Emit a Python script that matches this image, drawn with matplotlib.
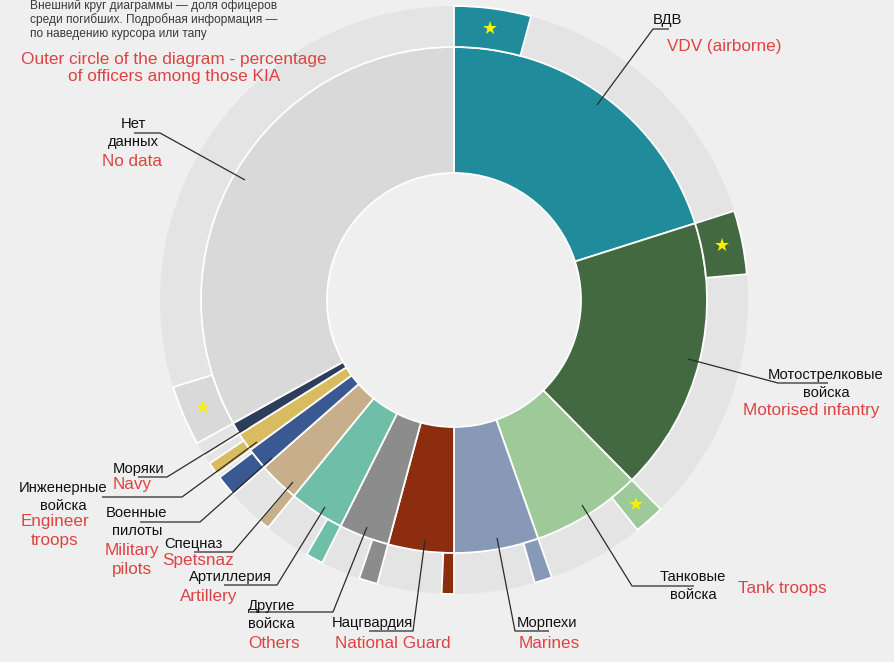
# -*- coding: utf-8 -*-
import matplotlib.pyplot as plt

plt.rcParams['font.family'] = ['Liberation Sans', 'DejaVu Sans']

# доля погибших по родам войск (%), по часовой стрелке от верха
names_ru = ["ВДВ", "Мотострелковые\nвойска", "Танковые\nвойска", "Морпехи",
            "Нацгвардия", "Другие\nвойска", "Артиллерия", "Спецназ",
            "Военные\nпилоты", "Инженерные\nвойска", "Моряки", "Нет\nданных"]
names_en = ["VDV (airborne)", "Motorised infantry", "Tank troops", "Marines",
            "National Guard", "Others", "Artillery", "Spetsnaz",
            "Military\npilots", "Engineer\ntroops", "Navy", "No data"]
shares = [20.1, 17.5, 7.0, 5.4, 4.2, 3.2, 3.5, 2.6, 1.4, 1.2, 0.8, 33.1]
# доля офицеров среди погибших (%), внешний круг
officers = [21, 20, 24, 18, 16, 32, 27, 24, 85, 60, 15, 10]
starred = [True, True, True, False, False, False, False, False, False, False, False, True]

colors = ["#1f8b9b", "#436941", "#9dca98", "#8799b7", "#8c2d0f", "#8c8c8c",
          "#6ebea8", "#c8af8c", "#3a5891", "#d8bc5f", "#2d3e5a", "#d9d9d9"]

bg = "#efefef"
track = "#e4e4e4"
red = "#de4343"
cx, cy = 454, 300
r_in, r_mid, r_out = 127, 253, 294

fig = plt.figure(figsize=(8.95, 6.62), dpi=100, facecolor=bg)
ax = fig.add_axes([0, 0, 1, 1])
ax.set_facecolor(bg)

# серая дорожка внешнего круга
ax.pie([1], radius=r_out, center=(cx, cy), colors=[track],
       wedgeprops=dict(width=r_out - r_mid, linewidth=0))

# основной круг
ax.pie(shares, radius=r_mid, center=(cx, cy), startangle=-90, counterclock=True,
       colors=colors, wedgeprops=dict(width=r_mid - r_in, edgecolor="white", linewidth=1.3))

# внешний круг - доля офицеров
outer_vals, outer_cols, outer_labels = [], [], []
for s, o, c, st in zip(shares, officers, colors, starred):
    outer_vals += [s * o / 100, s * (100 - o) / 100]
    outer_cols += [c, "none"]
    outer_labels += ["★" if st else "", ""]

wedges, stars = ax.pie(outer_vals, radius=r_out, center=(cx, cy), startangle=-90,
                       counterclock=True, colors=outer_cols, labels=outer_labels,
                       labeldistance=(r_mid + r_out) / 2 / r_out,
                       textprops=dict(color="#f7f000", fontsize=13, family="DejaVu Sans"),
                       wedgeprops=dict(width=r_out - r_mid, edgecolor="white", linewidth=1.3))
for i, w in enumerate(wedges):
    if i % 2 == 1:
        w.set_edgecolor("none")
for t in stars:
    t.set_ha("center")
    t.set_va("center")

ax.set_xlim(0, 895)
ax.set_ylim(662, 0)
ax.set_aspect("equal")
ax.axis("off")

# подписи: (x, y) русской, (x, y) английской, линия-выноска
label_pos = [
    ((667, 20, "center"), (667, 47, "left"), [(597, 105), (653, 29), (669, 29)]),
    ((826, 384, "center"), (811, 411, "center"), [(688, 359), (778, 383), (828, 383)]),
    ((693, 586, "center"), (738, 588, "left"), [(582, 505), (632, 586), (694, 586)]),
    ((547, 623, "center"), (549, 643, "center"), [(497, 538), (515, 631), (549, 631)]),
    ((372, 623, "center"), (393, 643, "center"), [(425, 540), (413, 631), (369, 631)]),
    ((248, 615, "left"), (248, 644, "left"), [(367, 527), (333, 612), (250, 612)]),
    ((230, 577, "center"), (209, 596, "center"), [(325, 507), (277, 585), (224, 585)]),
    ((193, 544, "center"), (198, 561, "center"), [(293, 482), (233, 552), (194, 552)]),
    ((137, 522, "center"), (132, 560, "center"), [(272, 458), (200, 522), (140, 522)]),
    ((63, 497, "center"), (55, 531, "center"), [(257, 442), (182, 497), (102, 497)]),
    ((139, 469, "center"), (132, 485, "center"), [(248, 427), (167, 477), (138, 477)]),
    ((133, 133, "center"), (132, 162, "center"), [(245, 180), (160, 133), (134, 133)]),
]

for ru, en, (rp, ep, line) in zip(names_ru, names_en, label_pos):
    xs, ys = zip(*line)
    ax.plot(xs, ys, color="#2b2b2b", lw=0.9, solid_capstyle="butt")
    ax.text(rp[0], rp[1], ru, ha=rp[2], va="center", fontsize=10.6, color="#111111",
            linespacing=1.4, multialignment="center")
    ax.text(ep[0], ep[1], en, ha=ep[2], va="center", fontsize=12.3, color=red,
            linespacing=1.3, multialignment="center")

# пояснение сверху
header = ["Внешний круг диаграммы — доля офицеров",
          "среди погибших. Подробная информация —",
          "по наведению курсора или тапу"]
for k, line in enumerate(header):
    ax.text(30, 6 + 14 * k, line, ha="left", va="center", fontsize=8.6, color="#3a3a3a")

ax.text(174, 68, "Outer circle of the diagram - percentage\nof officers among those KIA",
        ha="center", va="center", fontsize=12.4, color=red, linespacing=1.2)

fig.savefig("out.png", dpi=100, facecolor=bg)
